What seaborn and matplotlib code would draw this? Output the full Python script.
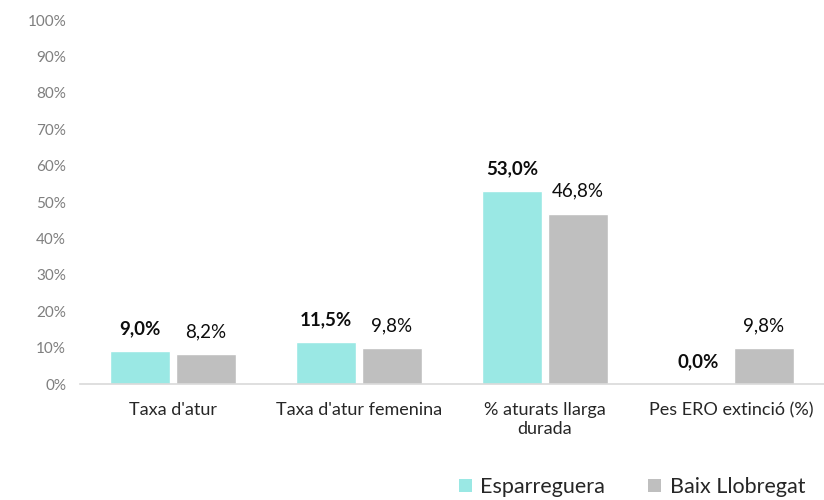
import matplotlib
matplotlib.use("Agg")
import matplotlib.pyplot as plt
import seaborn as sns
import pandas as pd
from matplotlib.patches import Patch

categories = ["Taxa d'atur", "Taxa d'atur femenina", "% aturats llarga\ndurada", "Pes ERO extinció (%)"]
series_names = ["Esparreguera", "Baix Llobregat"]
esparreguera = [9.0, 11.5, 53.0, 0.0]
baix = [8.2, 9.8, 46.8, 9.8]
colors = ["#9AE8E4", "#BFBFBF"]

sns.set_theme(style="white")
plt.rcParams['font.family'] = ['Lato', 'DejaVu Sans']

df = pd.DataFrame({
    "cat": categories * 2,
    "serie": [series_names[0]] * 4 + [series_names[1]] * 4,
    "val": esparreguera + baix,
})

fig = plt.figure(figsize=(8.24, 5.0), dpi=100)
ax = fig.add_axes([80/824, 116/500, 744/824, 364/500])
sns.barplot(data=df, x="cat", y="val", hue="serie", palette=colors,
            width=0.71, gap=0.09, ax=ax, legend=False, saturation=1)

ax.set_ylim(0, 100)
ax.set_xlim(-0.5, 3.5)
ax.set_yticks(range(0, 101, 10))
ax.set_yticklabels([f"{v}%" for v in range(0, 101, 10)], color="#7F7F7F", fontsize=11)
ax.tick_params(axis="y", length=0, pad=10)
ax.tick_params(axis="x", length=0, pad=13)
ax.set_xticklabels(categories, fontsize=13, color="#262626", linespacing=1.2)
ax.set_xlabel("")
ax.set_ylabel("")
for s in ["top", "right", "left"]:
    ax.spines[s].set_visible(False)
ax.spines["bottom"].set_color("#D9D9D9")
ax.spines["bottom"].set_linewidth(1.2)

for i, cont in enumerate(ax.containers):
    labels = [f"{v:.1f}%".replace(".", ",") for v in (esparreguera if i == 0 else baix)]
    ax.bar_label(cont, labels=labels, padding=10, fontsize=13.5,
                 fontweight="bold" if i == 0 else "normal", color="#0D0D0D")

handles = [Patch(facecolor=c, edgecolor="none") for c in colors]
fig.legend(handles, series_names, loc="center", bbox_to_anchor=(632/824, 1 - 487/500),
           ncol=2, frameon=False, fontsize=15.5, handlelength=0.6, handleheight=0.6,
           handletextpad=0.4, columnspacing=2.0, labelcolor="#262626")

fig.savefig("out.png", dpi=100, facecolor="white")
